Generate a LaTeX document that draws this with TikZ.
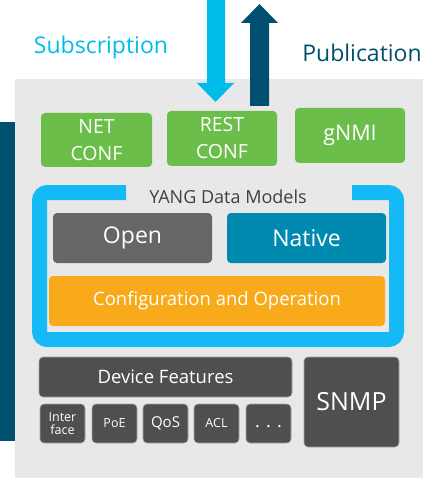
\documentclass[tikz,border=0pt]{standalone}
\usepackage{fontspec}
\setmainfont{Open Sans}
\definecolor{bgray}{HTML}{E8E8E8}
\definecolor{dblue}{HTML}{004F6E}
\definecolor{lblue}{HTML}{00BCEB}
\definecolor{fblue}{HTML}{14B9F5}
\definecolor{lgreen}{HTML}{6CBE4B}
\definecolor{opengray}{HTML}{666666}
\definecolor{nativeblue}{HTML}{008AB0}
\definecolor{orng}{HTML}{F9AA1B}
\definecolor{dgray}{HTML}{4F4F4F}
\definecolor{txtgray}{HTML}{404040}
\tikzset{
  box/.style={rounded corners=4pt, inner sep=0pt, outer sep=0pt, text=white, align=center, font=\fontsize{19.5}{27}\selectfont},
  greenbox/.style={box, fill=lgreen, minimum width=110pt, minimum height=55pt},
  featbox/.style={box, fill=dgray, draw=gray!70, line width=0.6pt},
  smallbox/.style={featbox, minimum width=45pt, minimum height=39pt, font=\fontsize{12.5}{14}\selectfont},
}
\begin{document}
\begin{tikzpicture}[x=1pt,y=-1pt]
\useasboundingbox (0,0) rectangle (423,478);
% background
\fill[bgray] (15,79) rectangle (423,478);
\fill[dblue] (0,122) rectangle (15,441);
% arrows
\fill[lblue] (207,0) -- (225,0) -- (225,83) -- (234,83) -- (215.5,102) -- (197,83) -- (207,83) -- cycle;
\fill[dblue] (250,106) -- (269,106) -- (269,23) -- (278,23) -- (259.5,4) -- (241,23) -- (250,23) -- cycle;
\node[text=lblue, font=\fontsize{23}{27}\selectfont] (sub) at (101,48) {Subscription};
\node[text=dblue, font=\fontsize{23}{27}\selectfont] (pub) at (362,53) {Publication};
% protocol boxes
\node[greenbox, minimum width=111pt, minimum height=54pt] (net) at (96.5,140) {NET\\CONF};
\node[greenbox] (rest) at (222,138.5) {REST\\CONF};
\node[greenbox, font=\fontsize{21.5}{25}\selectfont] (gnmi) at (350,135.5) {gNMI};
% YANG frame
\draw[fblue, line width=15pt, rounded corners=8pt] (126,192.5) -- (39.5,192.5) -- (39.5,339.5) -- (396.5,339.5) -- (396.5,192.5) -- (352,192.5);
\node[text=txtgray, font=\fontsize{18}{21}\selectfont] (yang) at (228,197) {YANG Data Models};
\node[box, fill=opengray, minimum width=159pt, minimum height=50pt, font=\fontsize{23}{27}\selectfont] (open) at (132.5,238) {Open};
\node[box, fill=nativeblue, minimum width=159pt, minimum height=50pt, font=\fontsize{23}{27}\selectfont] (native) at (306.5,238) {Native};
\node[box, fill=orng, minimum width=336pt, minimum height=50pt, font=\fontsize{18.5}{22}\selectfont] (conf) at (217,301) {Configuration and Operation};
% device features
\node[featbox, minimum width=253pt, minimum height=40pt, font=\fontsize{18.5}{22}\selectfont] (dev) at (165.5,377) {Device Features};
\node[smallbox, font=\fontsize{12.5}{13}\selectfont] (intf) at (62.5,423.5) {Inter\\face};
\node[smallbox] (poe) at (114.5,423.5) {PoE};
\node[smallbox, font=\fontsize{15}{17}\selectfont] (qos) at (165.5,423.5) {QoS};
\node[smallbox] (acl) at (216.5,423.5) {ACL};
\node[smallbox, font=\fontsize{18}{20}\selectfont] (dots) at (268.5,423.5) {\raisebox{-8pt}{. . .}};
\node[featbox, minimum width=95pt, minimum height=90pt, font=\fontsize{25}{29}\selectfont] (snmp) at (351.5,402) {SNMP};
\end{tikzpicture}
\end{document}
